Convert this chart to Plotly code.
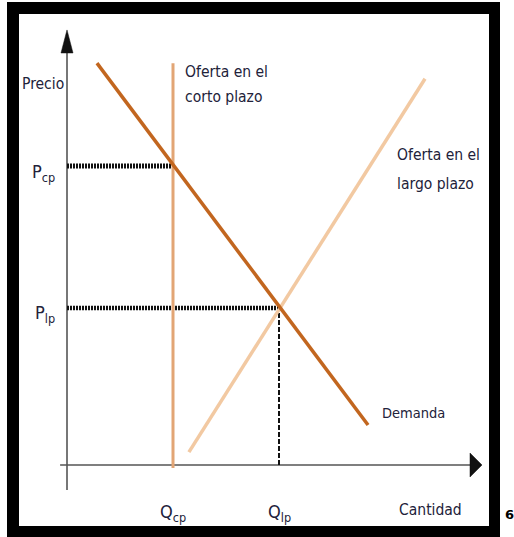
import plotly.graph_objects as go

W, H = 514, 537

# ---- data (economic units) ----
q_cp = 4.0          # cantidad corto plazo
q_lp = 8.0          # cantidad largo plazo
p_cp = 10.0         # precio corto plazo
p_lp = 5.25         # precio largo plazo

demand_q = [1.13, 11.36]
demand_p = [13.44, 1.34]

sr_supply_q = [q_cp, q_cp]
sr_supply_p = [-0.1, 13.44]

lr_supply_q = [4.6, 13.51]
lr_supply_p = [0.43, 12.92]

x_axis_range = [-0.26, 15.66]   # horizontal axis extent (Q)
y_axis_range = [-0.84, 14.55]   # vertical axis extent (P)

# ---- scale (units -> px) ----
SX, SY = 26.5, 29.9
OX, OY = 67, 465
xr = [-OX / SX, (W - OX) / SX]
yr = [-(H - OY) / SY, OY / SY]

FONT = "DejaVu Sans Condensed, Liberation Sans Narrow, sans-serif"
TXT = "#22223a"

fig = go.Figure()

# axes lines
fig.add_trace(go.Scatter(x=[x_axis_range[0], x_axis_range[1] - 0.3], y=[0, 0], mode="lines",
                         line=dict(color="#555555", width=1.6), hoverinfo="skip"))
fig.add_trace(go.Scatter(x=[0, 0], y=[y_axis_range[0], y_axis_range[1] - 0.5], mode="lines",
                         line=dict(color="#555555", width=1.6), hoverinfo="skip"))
# arrowheads
ax_len_x, ax_half_y = 12 / SX, 12 / SY
fig.add_trace(go.Scatter(
    x=[x_axis_range[1] - ax_len_x, x_axis_range[1], x_axis_range[1] - ax_len_x, x_axis_range[1] - ax_len_x],
    y=[ax_half_y, 0, -ax_half_y, ax_half_y], mode="lines", fill="toself",
    fillcolor="#111111", line=dict(color="#111111", width=0.5), hoverinfo="skip"))
ay_len, ay_half_x = 23 / SY, 6 / SX
fig.add_trace(go.Scatter(
    x=[-ay_half_x, 0, ay_half_x, -ay_half_x],
    y=[y_axis_range[1] - ay_len, y_axis_range[1], y_axis_range[1] - ay_len, y_axis_range[1] - ay_len],
    mode="lines", fill="toself", fillcolor="#111111",
    line=dict(color="#111111", width=0.5), hoverinfo="skip"))

# dashed guides
fig.add_trace(go.Scatter(x=[0, q_cp], y=[p_cp, p_cp], mode="lines",
                         line=dict(color="#111111", width=5, dash="2px,1px"), hoverinfo="skip"))
fig.add_trace(go.Scatter(x=[0, q_lp], y=[p_lp, p_lp], mode="lines",
                         line=dict(color="#111111", width=4.5, dash="2px,1px"), hoverinfo="skip"))
fig.add_trace(go.Scatter(x=[q_lp, q_lp], y=[0, p_lp], mode="lines",
                         line=dict(color="#111111", width=2, dash="5px,2px"), hoverinfo="skip"))

# curves
fig.add_trace(go.Scatter(x=lr_supply_q, y=lr_supply_p, mode="lines",
                         line=dict(color="#F2C9A2", width=3.5), hoverinfo="skip"))
fig.add_trace(go.Scatter(x=sr_supply_q, y=sr_supply_p, mode="lines",
                         line=dict(color="#E2A575", width=3), hoverinfo="skip"))
fig.add_trace(go.Scatter(x=demand_q, y=demand_p, mode="lines",
                         line=dict(color="#C2661F", width=3.5), hoverinfo="skip"))

ann = []
def label(x, y, text, xa="left", size=15.5, ya="middle"):
    ann.append(dict(x=x, y=y, xref="x", yref="y", text=text, showarrow=False,
                    xanchor=xa, yanchor=ya, font=dict(family=FONT, size=size, color=TXT)))

label(-0.906, 12.74, "Precio", xa="center")
label(4.38, 13.14, "Oferta en el")
label(4.38, 12.31, "corto plazo")
label(12.38, 10.37, "Oferta en el")
label(12.38, 9.40, "largo plazo")
label(11.81, 1.74, "Demanda", size=14.5)
label(-0.377, 9.75, "P<sub>cp</sub>", xa="right", size=18)
label(-0.377, 5.05, "P<sub>lp</sub>", xa="right", size=18)
label(q_cp, -1.6, "Q<sub>cp</sub>", xa="center", size=18)
label(q_lp, -1.6, "Q<sub>lp</sub>", xa="center", size=18)
label(13.7, -1.5, "Cantidad")
ann[-1]["xanchor"] = "center"
fig.update_layout(annotations=ann)

fig.add_annotation(x=503 / W, y=1 - 514 / H, xref="paper", yref="paper", text="<b>6</b>",
                   showarrow=False, xanchor="left", yanchor="middle",
                   font=dict(family="DejaVu Sans", size=13, color="#000000"))

# black frame
fig.add_shape(type="rect", xref="paper", yref="paper", x0=7 / W, x1=500 / W,
              y0=0, y1=1 - 2 / H, fillcolor="#000000", line=dict(width=0), layer="below")
fig.add_shape(type="rect", xref="paper", yref="paper", x0=19 / W, x1=489 / W,
              y0=1 - 526 / H, y1=1 - 14 / H, fillcolor="#ffffff", line=dict(width=0), layer="below")

fig.update_layout(
    width=W, height=H, margin=dict(l=0, r=0, t=0, b=0),
    paper_bgcolor="white", plot_bgcolor="white", showlegend=False,
    xaxis=dict(range=xr, visible=False, fixedrange=True),
    yaxis=dict(range=yr, visible=False, fixedrange=True),
)

fig.write_html("out.html", config={"displayModeBar": False},
               post_script="document.body.style.margin='0px';document.body.style.padding='0px';")
